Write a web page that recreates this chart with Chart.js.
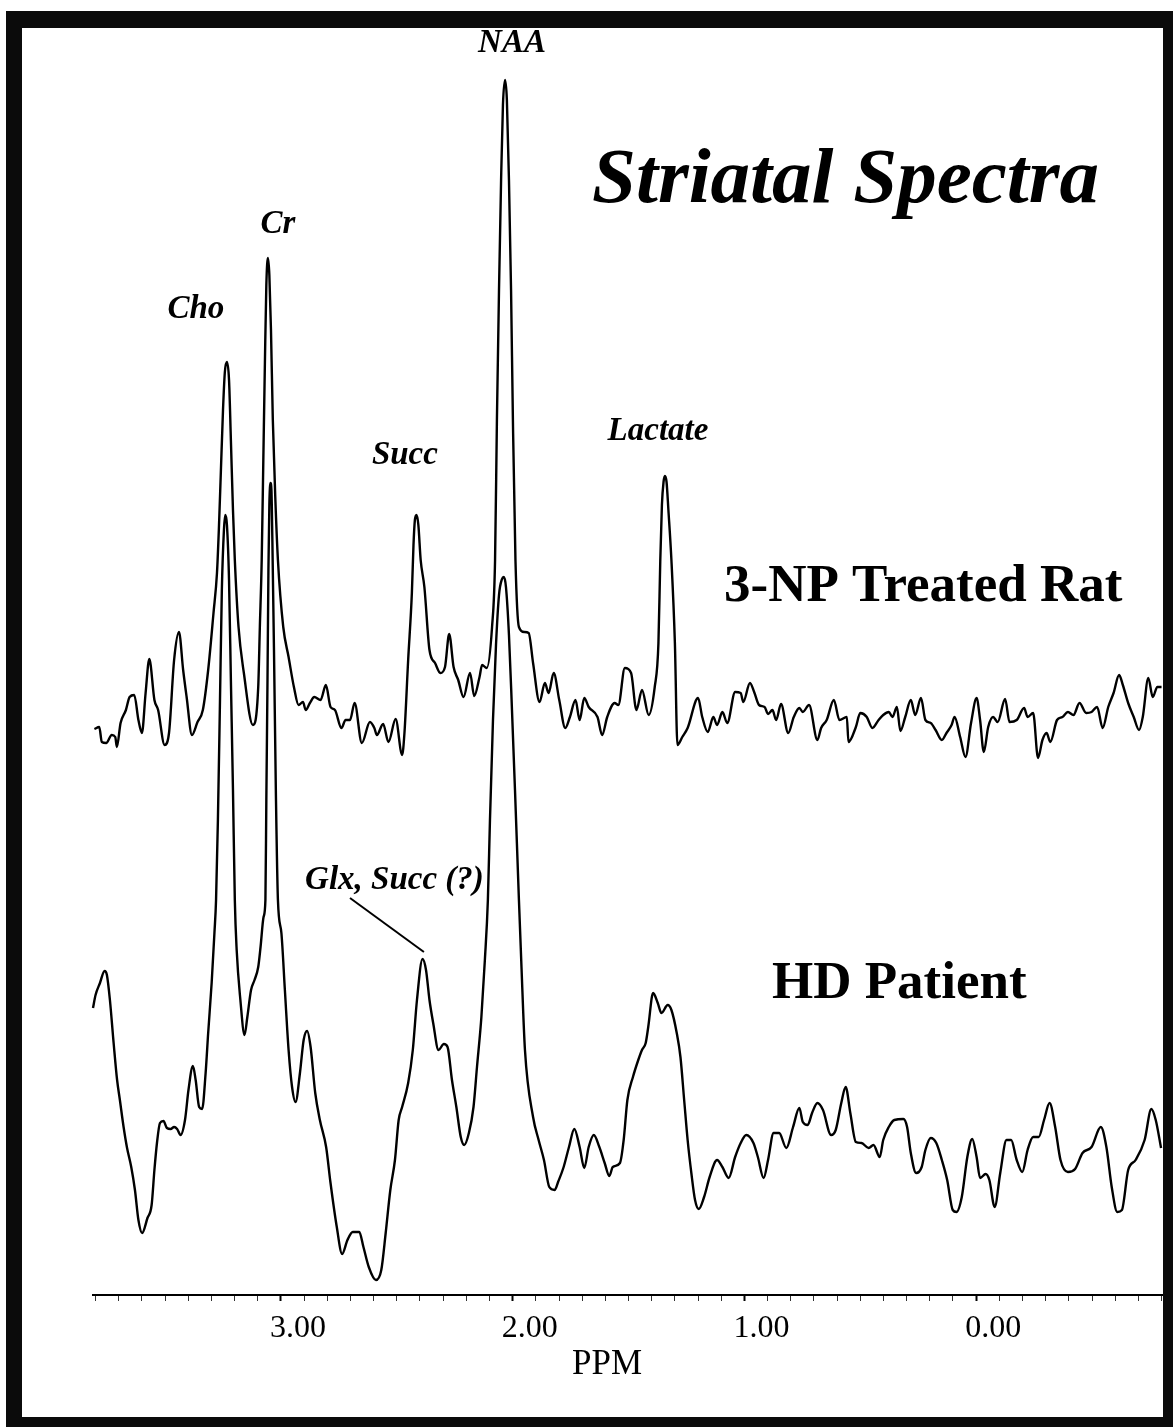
<!DOCTYPE html>
<html>
<head>
<meta charset="utf-8">
<script src="https://cdn.jsdelivr.net/npm/chart.js@4.4.1/dist/chart.umd.min.js"></script>
<style>
  html, body { margin: 0; padding: 0; background: #fff; }
  #wrap { position: relative; width: 1173px; height: 1427px; overflow: hidden; }
  #frame {
    position: absolute; left: 6px; top: 11px; width: 1167px; height: 1416px;
    box-sizing: border-box; border-style: solid; border-color: #0b0b0b;
    border-width: 17px 10px 10px 16px; pointer-events: none;
  }
  canvas { position: absolute; left: 0; top: 0; }
</style>
</head>
<body>
<div id="wrap">
  <canvas id="grafico" width="1173" height="1427"></canvas>
  <div id="frame"></div>
</div>
<script>
// chemical shift (ppm) and signal (arbitrary units)
const ratPpm = [3.805, 3.784, 3.773, 3.754, 3.730, 3.715, 3.708, 3.692, 3.669, 3.653, 3.633, 3.615, 3.600, 3.584, 3.568, 3.546, 3.530, 3.502, 3.483, 3.461,
  3.440, 3.422, 3.407, 3.384, 3.360, 3.337, 3.314, 3.291, 3.276, 3.268, 3.259, 3.250, 3.242, 3.233, 3.224, 3.216, 3.207, 3.199, 3.183, 3.160,
  3.121, 3.098, 3.091, 3.083, 3.076, 3.069, 3.063, 3.056, 3.050, 3.043, 3.035, 3.024, 3.013, 2.990, 2.967, 2.944, 2.924, 2.905, 2.893, 2.875,
  2.856, 2.829, 2.806, 2.786, 2.767, 2.739, 2.721, 2.702, 2.682, 2.651, 2.616, 2.597, 2.586, 2.559, 2.536, 2.505, 2.477, 2.467, 2.451, 2.435,
  2.428, 2.422, 2.415, 2.407, 2.397, 2.381, 2.359, 2.335, 2.312, 2.292, 2.274, 2.255, 2.235, 2.212, 2.184, 2.166, 2.143, 2.132, 2.112, 2.089,
  2.076, 2.068, 2.059, 2.050, 2.042, 2.033, 2.025, 2.016, 2.007, 1.999, 1.988, 1.973, 1.950, 1.931, 1.912, 1.884, 1.861, 1.845, 1.823, 1.799,
  1.773, 1.753, 1.729, 1.711, 1.691, 1.672, 1.634, 1.614, 1.592, 1.560, 1.544, 1.516, 1.489, 1.466, 1.442, 1.413, 1.387, 1.371, 1.363, 1.356,
  1.349, 1.343, 1.336, 1.328, 1.315, 1.300, 1.289, 1.268, 1.245, 1.200, 1.182, 1.158, 1.134, 1.118, 1.095, 1.074, 1.040, 1.016, 1.005, 0.976,
  0.958, 0.937, 0.913, 0.898, 0.879, 0.863, 0.842, 0.811, 0.787, 0.763, 0.748, 0.721, 0.685, 0.669, 0.645, 0.614, 0.590, 0.558, 0.551, 0.519,
  0.500, 0.472, 0.448, 0.421, 0.401, 0.377, 0.361, 0.342, 0.327, 0.306, 0.282, 0.263, 0.238, 0.219, 0.196, 0.175, 0.148, 0.128, 0.106, 0.093,
  0.069, 0.046, 0.022, -0.002, -0.017, -0.033, -0.052, -0.073, -0.093, -0.125, -0.144, -0.175, -0.207, -0.222, -0.246, -0.267, -0.286, -0.304, -0.320, -0.349,
  -0.372, -0.396, -0.420, -0.446, -0.475, -0.498, -0.522, -0.546, -0.570, -0.593, -0.617, -0.633, -0.656, -0.680, -0.703, -0.719, -0.743, -0.762, -0.782, -0.800];
const ratSignal = [56.6, 56.8, 55.3, 55.2, 56.0, 55.8, 54.8, 57.2, 58.5, 59.8, 60.0, 57.5, 56.2, 60.2, 63.6, 59.5, 58.5, 55.0, 56.2, 63.5,
  66.3, 62.5, 59.8, 56.0, 57.3, 58.5, 62.5, 68.2, 72.2, 76.5, 82.5, 88.5, 92.3, 93.3, 91.5, 85.5, 78.5, 73.5, 66.8, 62.2,
  57.0, 60.8, 66.8, 73.5, 83.5, 93.5, 101.0, 103.7, 102.0, 96.5, 87.5, 79.5, 73.5, 66.8, 63.8, 60.8, 59.0, 59.3, 58.5, 59.2,
  59.8, 59.5, 61.0, 58.8, 58.5, 56.7, 57.5, 57.5, 59.2, 55.2, 57.3, 56.7, 56.0, 57.1, 55.3, 57.6, 54.0, 56.2, 63.5, 70.2,
  75.0, 77.5, 78.0, 77.0, 73.5, 70.8, 64.5, 63.2, 62.2, 62.8, 66.1, 62.8, 61.5, 59.8, 62.2, 59.9, 61.8, 63.0, 62.7, 66.8,
  73.5, 87.5, 100.5, 111.5, 119.0, 121.5, 119.5, 111.5, 100.5, 87.5, 73.5, 66.8, 66.3, 66.2, 63.2, 59.3, 61.2, 60.2, 62.2, 59.5,
  56.7, 57.8, 59.5, 57.5, 59.7, 58.8, 57.8, 56.0, 57.8, 59.2, 59.0, 62.7, 62.2, 58.5, 60.5, 58.0, 60.8, 65.2, 73.5, 79.0,
  81.3, 81.9, 81.3, 78.5, 73.5, 65.2, 55.0, 55.8, 56.7, 59.7, 57.8, 56.3, 57.8, 57.0, 58.3, 57.2, 60.3, 60.2, 59.3, 61.2,
  60.3, 59.0, 58.8, 58.1, 58.5, 57.5, 59.1, 56.2, 57.8, 58.7, 58.3, 59.0, 55.5, 56.7, 57.5, 59.5, 57.5, 57.8, 55.3, 56.8,
  58.2, 57.8, 56.7, 57.5, 58.0, 58.3, 57.8, 58.8, 56.4, 57.8, 59.5, 58.0, 59.7, 57.5, 57.2, 56.5, 55.5, 56.2, 57.0, 57.8,
  55.8, 53.8, 57.2, 59.7, 57.5, 54.3, 56.8, 57.8, 57.3, 59.6, 57.3, 57.5, 58.7, 57.8, 58.2, 53.7, 55.5, 56.2, 55.3, 57.5,
  57.8, 58.3, 58.0, 59.2, 58.2, 58.3, 58.8, 56.7, 58.8, 60.2, 62.0, 61.0, 59.2, 57.8, 56.5, 57.8, 61.7, 59.8, 60.8, 60.8];

const hdPpm = [3.811, 3.800, 3.781, 3.761, 3.751, 3.738, 3.722, 3.707, 3.695, 3.679, 3.664, 3.646, 3.630, 3.615, 3.599, 3.576, 3.558, 3.546, 3.535, 3.522,
  3.507, 3.492, 3.476, 3.461, 3.448, 3.433, 3.414, 3.399, 3.380, 3.368, 3.353, 3.340, 3.325, 3.314, 3.299, 3.287, 3.280, 3.272, 3.263, 3.255,
  3.246, 3.240, 3.233, 3.224, 3.216, 3.207, 3.199, 3.191, 3.175, 3.157, 3.145, 3.129, 3.114, 3.098, 3.088, 3.075, 3.067, 3.063, 3.058, 3.054,
  3.050, 3.045, 3.041, 3.037, 3.030, 3.022, 3.013, 2.998, 2.983, 2.967, 2.952, 2.937, 2.918, 2.902, 2.887, 2.872, 2.852, 2.832, 2.805, 2.786,
  2.759, 2.736, 2.713, 2.690, 2.662, 2.644, 2.621, 2.590, 2.567, 2.548, 2.528, 2.508, 2.492, 2.477, 2.451, 2.431, 2.413, 2.389, 2.374, 2.359,
  2.343, 2.320, 2.297, 2.281, 2.262, 2.243, 2.224, 2.209, 2.189, 2.169, 2.154, 2.135, 2.120, 2.107, 2.098, 2.085, 2.072, 2.059, 2.046, 2.038,
  2.029, 2.016, 2.003, 1.990, 1.973, 1.962, 1.947, 1.912, 1.888, 1.865, 1.842, 1.819, 1.804, 1.780, 1.757, 1.734, 1.711, 1.691, 1.672, 1.650,
  1.626, 1.603, 1.583, 1.568, 1.537, 1.521, 1.505, 1.481, 1.458, 1.442, 1.426, 1.415, 1.394, 1.374, 1.358, 1.331, 1.315, 1.292, 1.276, 1.260,
  1.245, 1.229, 1.213, 1.197, 1.174, 1.150, 1.118, 1.095, 1.068, 1.040, 1.016, 0.992, 0.961, 0.942, 0.917, 0.898, 0.874, 0.850, 0.819, 0.790,
  0.763, 0.748, 0.727, 0.708, 0.685, 0.661, 0.626, 0.606, 0.582, 0.563, 0.543, 0.519, 0.495, 0.464, 0.443, 0.416, 0.401, 0.377, 0.353, 0.314,
  0.298, 0.282, 0.259, 0.235, 0.219, 0.196, 0.172, 0.148, 0.125, 0.101, 0.085, 0.062, 0.038, 0.017, -0.002, -0.017, -0.041, -0.057, -0.080, -0.104,
  -0.131, -0.151, -0.175, -0.199, -0.222, -0.246, -0.270, -0.293, -0.317, -0.341, -0.364, -0.396, -0.427, -0.459, -0.498, -0.538, -0.562, -0.585, -0.609, -0.629,
  -0.656, -0.688, -0.727, -0.756, -0.775, -0.798];
const hdSignal = [28.7, 30.0, 31.2, 32.4, 32.0, 29.5, 25.2, 21.5, 19.5, 16.8, 14.7, 12.8, 10.5, 7.5, 6.2, 7.7, 9.0, 12.5, 15.2, 17.2,
  17.4, 16.7, 16.6, 16.8, 16.6, 16.0, 17.5, 20.5, 22.9, 21.5, 18.8, 18.6, 22.2, 26.2, 31.2, 36.2, 39.5, 47.5, 59.5, 70.5,
  76.5, 78.0, 77.0, 71.5, 61.5, 50.5, 39.5, 34.5, 29.5, 26.0, 27.8, 30.5, 31.5, 32.8, 34.8, 37.8, 39.5, 49.5, 61.5, 72.5,
  79.0, 81.2, 80.5, 75.5, 64.5, 50.5, 39.5, 36.2, 30.5, 24.5, 20.8, 19.3, 22.2, 25.5, 26.4, 24.8, 20.2, 17.5, 14.8, 11.2,
  6.8, 4.1, 5.5, 6.3, 6.3, 4.8, 2.8, 1.5, 2.5, 6.2, 10.5, 13.5, 17.5, 18.8, 21.2, 24.5, 29.5, 33.6, 32.5, 29.5,
  27.2, 24.5, 25.1, 24.8, 21.5, 18.8, 15.8, 15.0, 16.2, 18.8, 22.8, 27.8, 33.5, 39.5, 47.5, 57.5, 65.0, 70.0, 71.6, 71.8,
  70.8, 66.0, 58.5, 50.5, 39.5, 32.8, 24.5, 17.8, 15.5, 13.5, 10.8, 10.5, 11.3, 12.8, 14.8, 16.6, 14.8, 12.7, 14.8, 16.0,
  14.8, 13.2, 11.9, 12.8, 13.2, 15.5, 19.5, 21.8, 23.5, 24.5, 25.2, 26.8, 30.2, 29.2, 28.2, 29.0, 28.5, 26.2, 23.8, 19.5,
  15.5, 12.2, 9.5, 8.6, 9.8, 11.8, 13.5, 12.8, 11.7, 13.8, 15.2, 16.0, 15.2, 13.8, 11.7, 13.5, 16.2, 16.2, 14.7, 16.8,
  18.7, 17.3, 17.0, 18.2, 19.2, 18.5, 16.0, 16.5, 19.2, 20.8, 18.2, 15.3, 15.2, 14.7, 15.0, 13.8, 15.5, 16.8, 17.5, 17.6,
  16.8, 14.2, 12.2, 12.8, 14.5, 15.7, 15.2, 13.5, 11.5, 8.5, 8.3, 9.8, 13.8, 15.6, 13.8, 11.7, 12.1, 11.5, 8.8, 12.2,
  15.5, 15.5, 13.5, 12.3, 14.5, 15.8, 15.8, 17.5, 19.2, 16.8, 13.5, 12.3, 12.6, 14.2, 14.8, 16.8, 14.8, 10.8, 8.3, 8.5,
  12.5, 13.5, 15.5, 18.6, 17.5, 14.7];

const seriesNames = ["3-NP Treated Rat", "HD Patient"];

const majorTicks = [3, 2, 1, 0];
const tickLabels = ["3.00", "2.00", "1.00", "0.00"];

const peakNames = ["Cho", "Cr", "Succ", "NAA", "Lactate", "Glx, Succ (?)"];
const peakPpm = [3.367, 3.013, 2.465, 2.003, 1.373, 2.510];
const peakSignal = [97.7, 106.2, 83.1, 124.3, 85.5, 40.6];
// pointer from the Glx label to its peak
const pointerPpm = [2.702, 2.383];
const pointerSignal = [39.7, 34.3];

const serif = '"Liberation Serif", "Times New Roman", serif';

function majorIndex(v) {
    return majorTicks.findIndex(m => Math.abs(m - v) < 1e-6);
}

const anotacoes = {
    id: "anotacoes",
    afterDatasetsDraw(chart) {
        const { ctx, scales: { x, y } } = chart;
        ctx.save();
        ctx.fillStyle = "#000";
        ctx.strokeStyle = "#000";
        ctx.textBaseline = "alphabetic";

        ctx.textAlign = "center";
        ctx.font = "italic bold 33px " + serif;
        peakNames.forEach((nome, i) => {
            ctx.fillText(nome, x.getPixelForValue(peakPpm[i]), y.getPixelForValue(peakSignal[i]));
        });

        ctx.lineWidth = 2;
        ctx.beginPath();
        ctx.moveTo(x.getPixelForValue(pointerPpm[0]), y.getPixelForValue(pointerSignal[0]));
        ctx.lineTo(x.getPixelForValue(pointerPpm[1]), y.getPixelForValue(pointerSignal[1]));
        ctx.stroke();

        ctx.textAlign = "left";
        ctx.font = "italic bold 79px " + serif;
        ctx.fillText("Striatal Spectra", 592, 202);

        ctx.font = "bold 53px " + serif;
        ctx.fillText(chart.data.datasets[0].label, 724, 601);
        ctx.fillText(chart.data.datasets[1].label, 772, 998);

        ctx.textAlign = "center";
        ctx.font = "35px " + serif;
        ctx.fillText("PPM", 607, 1374);
        ctx.restore();
    }
};

const estiloLinha = {
    borderColor: "#000",
    backgroundColor: "#000",
    borderWidth: 2.4,
    pointRadius: 0,
    fill: false,
    cubicInterpolationMode: "monotone",
    clip: false
};

const ctx = document.getElementById("grafico").getContext("2d");
new Chart(ctx, {
    type: "line",
    data: {
        datasets: [
            { label: seriesNames[0], data: ratPpm.map((p, i) => ({ x: p, y: ratSignal[i] })), ...estiloLinha },
            { label: seriesNames[1], data: hdPpm.map((p, i) => ({ x: p, y: hdSignal[i] })), ...estiloLinha }
        ]
    },
    options: {
        responsive: false,
        animation: false,
        devicePixelRatio: 1,
        layout: { padding: { left: 93, right: 11, top: 45, bottom: 71.6 } },
        plugins: {
            legend: { display: false },
            tooltip: { enabled: false }
        },
        scales: {
            x: {
                type: "linear",
                reverse: true,
                min: -0.802,
                max: 3.811,
                border: { display: true, color: "#000", width: 2 },
                grid: {
                    drawOnChartArea: false,
                    drawTicks: true,
                    tickLength: 6,
                    tickColor: c => (c.tick && majorIndex(c.tick.value) >= 0) ? "#000" : "#333",
                    tickWidth: c => (c.tick && majorIndex(c.tick.value) >= 0) ? 2 : 1
                },
                ticks: {
                    stepSize: 0.1,
                    includeBounds: false,
                    autoSkip: false,
                    maxRotation: 0,
                    minRotation: 0,
                    padding: 8,
                    labelOffset: 17,
                    color: "#000",
                    font: { family: serif, size: 32 },
                    callback: v => {
                        const i = majorIndex(v);
                        return i >= 0 ? tickLabels[i] : "";
                    }
                }
            },
            y: {
                display: false,
                min: 0,
                max: 125
            }
        }
    },
    plugins: [anotacoes]
});
</script>
</body>
</html>
